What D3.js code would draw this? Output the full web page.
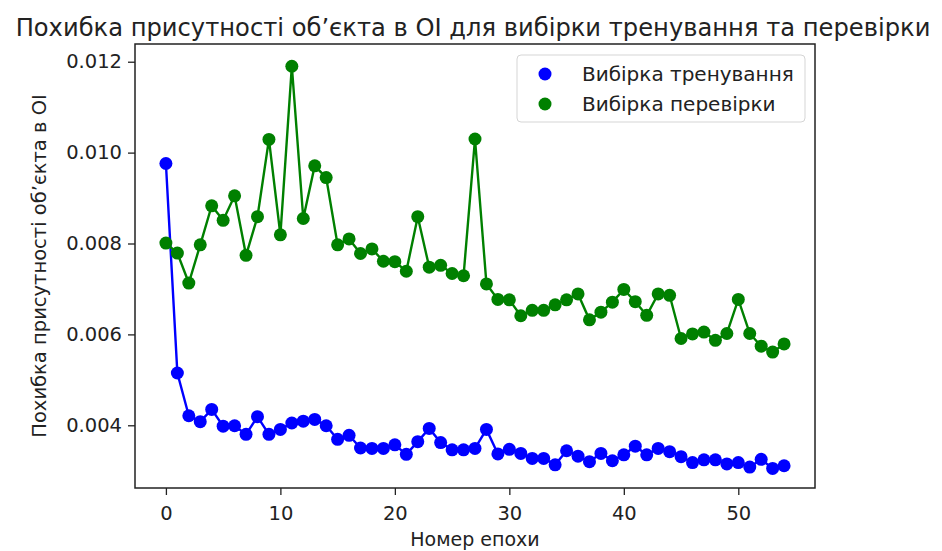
<!DOCTYPE html>
<html>
<head>
<meta charset="utf-8">
<script src="https://cdn.jsdelivr.net/npm/d3@7"></script>
<style>
  html, body { margin: 0; padding: 0; background: #fff; }
  svg { display: block; font-family: "DejaVu Sans", sans-serif; }
</style>
</head>
<body>
<svg id="chart" width="942" height="551"></svg>
<script>
const epochs = d3.range(0, 55);
const trainLoss = [
  0.00976, 0.00515, 0.00421, 0.00408, 0.00435, 0.00398, 0.00399, 0.00380, 0.00419, 0.00380,
  0.00391, 0.00405, 0.00409, 0.00413, 0.00399, 0.00369, 0.00378, 0.00350, 0.00349, 0.00349,
  0.00357, 0.00336, 0.00364, 0.00393, 0.00362, 0.00346, 0.00346, 0.00349, 0.00391, 0.00337,
  0.00347, 0.00338, 0.00327, 0.00327, 0.00313, 0.00344, 0.00332, 0.00320, 0.00338, 0.00322,
  0.00335, 0.00354, 0.00335, 0.00349, 0.00342, 0.00331, 0.00318, 0.00324, 0.00324, 0.00315,
  0.00318, 0.00308, 0.00325, 0.00305, 0.00311
];
const valLoss = [
  0.00801, 0.00779, 0.00713, 0.00797, 0.00883, 0.00851, 0.00905, 0.00774, 0.00859, 0.01029,
  0.00819, 0.01190, 0.00855, 0.00971, 0.00945, 0.00797, 0.00810, 0.00778, 0.00788, 0.00761,
  0.00760, 0.00739, 0.00859, 0.00748, 0.00752, 0.00734, 0.00729, 0.01030, 0.00711, 0.00677,
  0.00676, 0.00641, 0.00653, 0.00653, 0.00665, 0.00676, 0.00689, 0.00632, 0.00649, 0.00671,
  0.00699, 0.00672, 0.00642, 0.00689, 0.00686, 0.00591, 0.00601, 0.00605, 0.00587, 0.00602,
  0.00677, 0.00602, 0.00574, 0.00561, 0.00579
];
const xTicks = [0, 10, 20, 30, 40, 50];
const yTicks = [0.004, 0.006, 0.008, 0.010, 0.012];
const seriesNames = ["Вибірка тренування", "Вибірка перевірки"];
const seriesColors = ["#0000ff", "#008000"];
const titleText = "Похибка присутності об’єкта в ОІ для вибірки тренування та перевірки";
const xLabel = "Номер епохи";
const yLabel = "Похибка присутності об’єкта в ОІ";

const svg = d3.select("#chart");
const L = 135, R = 815, T = 44, B = 488;

const x = d3.scaleLinear().domain([-2.7, 56.7]).range([L, R]);
const y = d3.scaleLinear().domain([0.00262, 0.01239]).range([B, T]);

// Axes
const xAxis = svg.append("g").attr("transform", `translate(0,${B})`)
  .call(d3.axisBottom(x).tickValues(xTicks).tickSize(7).tickPadding(11).tickFormat(d3.format("d")));
const yAxis = svg.append("g").attr("transform", `translate(${L},0)`)
  .call(d3.axisLeft(y).tickValues(yTicks).tickSize(7).tickPadding(6).tickFormat(d3.format(".3f")));
[xAxis, yAxis].forEach(g => {
  g.select(".domain").remove();
  g.selectAll(".tick line").attr("stroke", "#222").attr("stroke-width", 1.3);
  g.selectAll(".tick text").attr("fill", "#222").style("font-size", "19.5px").style("font-family", "DejaVu Sans");
});

// Frame
svg.append("rect").attr("x", L).attr("y", T).attr("width", R - L).attr("height", B - T)
  .attr("fill", "none").attr("stroke", "#222").attr("stroke-width", 1.5);

const line = d3.line().x((d, i) => x(epochs[i])).y(d => y(d));
[trainLoss, valLoss].forEach((s, k) => {
  svg.append("path").datum(s).attr("d", line).attr("fill", "none")
    .attr("stroke", seriesColors[k]).attr("stroke-width", 2.4);
  svg.append("g").selectAll("circle").data(s).join("circle")
    .attr("cx", (d, i) => x(epochs[i])).attr("cy", d => y(d)).attr("r", 6.5)
    .attr("fill", seriesColors[k]);
});

// Title and labels
svg.append("text").attr("x", 473).attr("y", 36).attr("text-anchor", "middle")
  .style("font-size", "24.2px").attr("fill", "#222").text(titleText);
svg.append("text").attr("x", 475).attr("y", 546).attr("text-anchor", "middle")
  .style("font-size", "19px").attr("fill", "#222").text(xLabel);
svg.append("text").attr("transform", `translate(46,${(T + B) / 2}) rotate(-90)`)
  .attr("text-anchor", "middle").style("font-size", "19.5px").attr("fill", "#222").text(yLabel);

// Legend
const lg = svg.append("g");
lg.append("rect").attr("x", 517).attr("y", 55).attr("width", 288).attr("height", 67)
  .attr("rx", 4).attr("fill", "#fff").attr("fill-opacity", 0.8)
  .attr("stroke", "#d5d5d5").attr("stroke-width", 1);
seriesNames.forEach((n, k) => {
  const cy = 74 + k * 30;
  lg.append("circle").attr("cx", 545).attr("cy", cy).attr("r", 6.5).attr("fill", seriesColors[k]);
  lg.append("text").attr("x", 582).attr("y", cy + 7).style("font-size", "20px")
    .attr("fill", "#222").text(n);
});
</script>
</body>
</html>
